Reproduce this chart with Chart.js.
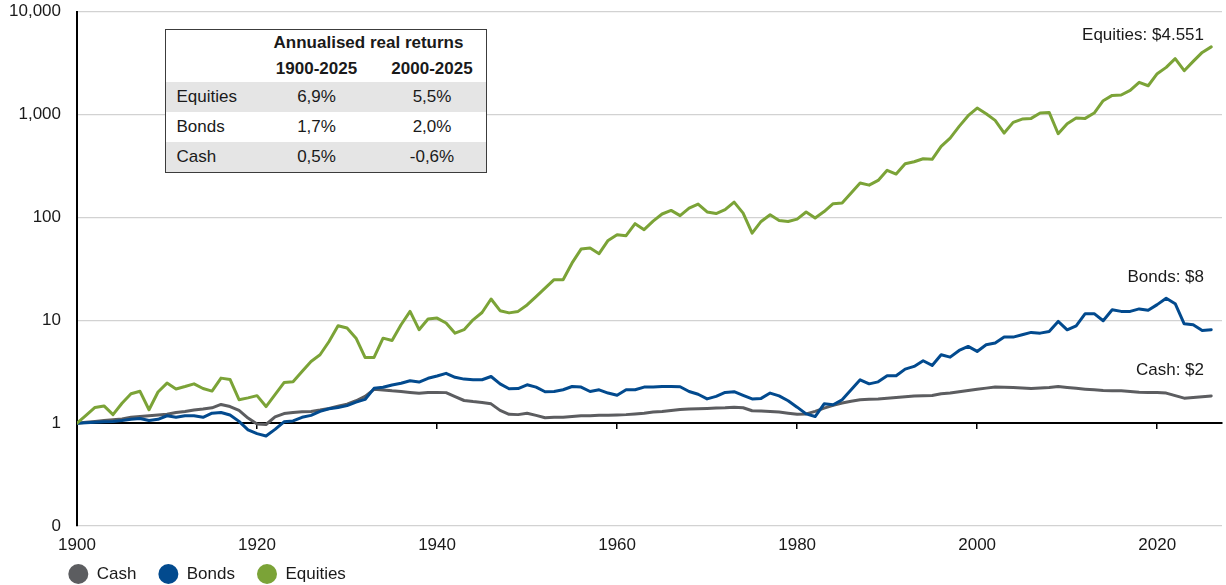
<!DOCTYPE html>
<html>
<head>
<meta charset="utf-8">
<script src="https://cdn.jsdelivr.net/npm/chart.js@4.4.1/dist/chart.umd.min.js"></script>
<style>
  html, body { margin: 0; padding: 0; background: #fff; }
  #wrap { position: relative; width: 1226px; height: 585px; font-family: "Liberation Sans", Arial, sans-serif; color: #1a1a1a; }
  canvas { display: block; }
  #returns { position: absolute; left: 165px; top: 29px; width: 322px; height: 144px; box-sizing: border-box;
             border: 1.5px solid #3c3c3c; background: #fff; font-size: 17px; overflow: hidden; }
  #returns .row { position: absolute; left: 0; right: 0; }
  #returns .cell { position: absolute; top: 0; height: 100%; display: flex; align-items: center; white-space: nowrap; }
  #returns .c { justify-content: center; }
  #returns .b { font-weight: bold; }
  #returns .shade { background: #e5e5e5; }
</style>
</head>
<body>
<div id="wrap">
  <canvas id="chart" width="1226" height="585"></canvas>
  <div id="returns"></div>
</div>
<script>
// Growth of $1 in real terms, year-end values, 1900-2026 (log scale)
const firstYear = 1900;

const cash = [
  1.00, 1.02, 1.04, 1.06, 1.08, 1.10, 1.14, 1.16, 1.18, 1.20,
  1.22, 1.27, 1.30, 1.34, 1.37, 1.41, 1.52, 1.45, 1.33, 1.12,
  0.98, 0.97, 1.15, 1.24, 1.27, 1.29, 1.30, 1.34, 1.39, 1.46,
  1.53, 1.65, 1.82, 2.13, 2.10, 2.06, 2.03, 1.99, 1.95, 1.99,
  1.99, 1.98, 1.81, 1.66, 1.62, 1.59, 1.54, 1.33, 1.22, 1.21,
  1.25, 1.19, 1.13, 1.14, 1.14, 1.16, 1.18, 1.18, 1.19, 1.19,
  1.20, 1.21, 1.23, 1.25, 1.28, 1.30, 1.33, 1.36, 1.37, 1.38,
  1.39, 1.40, 1.41, 1.43, 1.41, 1.32, 1.31, 1.30, 1.28, 1.25,
  1.22, 1.23, 1.30, 1.40, 1.49, 1.57, 1.63, 1.69, 1.71, 1.72,
  1.75, 1.78, 1.81, 1.84, 1.85, 1.86, 1.93, 1.96, 2.02, 2.08,
  2.14, 2.19, 2.24, 2.23, 2.22, 2.20, 2.17, 2.20, 2.22, 2.27,
  2.22, 2.18, 2.14, 2.11, 2.08, 2.07, 2.06, 2.03, 2.00, 1.99,
  1.99, 1.96, 1.85, 1.75, 1.78, 1.81, 1.84
];

const bonds = [
  1.00, 1.01, 1.02, 1.03, 1.04, 1.06, 1.09, 1.11, 1.06, 1.09,
  1.18, 1.14, 1.18, 1.18, 1.14, 1.25, 1.27, 1.20, 1.04, 0.86,
  0.79, 0.75, 0.87, 1.03, 1.05, 1.14, 1.19, 1.30, 1.38, 1.42,
  1.48, 1.60, 1.70, 2.18, 2.23, 2.35, 2.44, 2.58, 2.51, 2.73,
  2.87, 3.05, 2.79, 2.68, 2.64, 2.64, 2.84, 2.41, 2.16, 2.17,
  2.36, 2.24, 2.02, 2.03, 2.11, 2.27, 2.24, 2.03, 2.11, 1.96,
  1.87, 2.11, 2.11, 2.24, 2.24, 2.27, 2.27, 2.26, 2.03, 1.91,
  1.72, 1.82, 1.99, 2.02, 1.86, 1.72, 1.74, 1.96, 1.84, 1.65,
  1.43, 1.23, 1.16, 1.54, 1.51, 1.69, 2.11, 2.64, 2.41, 2.52,
  2.89, 2.89, 3.35, 3.56, 4.04, 3.64, 4.62, 4.38, 5.09, 5.57,
  4.98, 5.78, 6.00, 6.86, 6.86, 7.23, 7.62, 7.50, 7.79, 9.74,
  8.08, 8.84, 11.6, 11.6, 9.89, 12.65, 12.2, 12.2, 12.9, 12.5,
  14.2, 16.4, 14.5, 9.25, 9.04, 7.96, 8.1
];

const equities = [
  1.00, 1.19, 1.42, 1.47, 1.21, 1.56, 1.93, 2.04, 1.35, 2.01,
  2.45, 2.15, 2.27, 2.41, 2.17, 2.05, 2.74, 2.66, 1.69, 1.76,
  1.85, 1.45, 1.89, 2.48, 2.52, 3.18, 3.98, 4.62, 6.22, 8.85,
  8.40, 6.70, 4.35, 4.35, 6.70, 6.36, 9.05, 12.2, 8.10, 10.3,
  10.5, 9.40, 7.50, 8.10, 10.1, 11.9, 16.1, 12.4, 11.8, 12.2,
  14.1, 17.0, 20.5, 24.8, 24.8, 36.1, 49.2, 50.4, 44.4, 59.7,
  67.9, 66.4, 86.9, 76.0, 92.0, 108, 117, 104, 123, 135,
  113, 109, 119, 141, 110, 70.4, 91.4, 106, 93.5, 91.4,
  96.3, 113, 98.6, 114, 136, 138, 173, 216, 206, 229,
  287, 264, 333, 348, 372, 367, 490, 591, 767, 975,
  1157, 1019, 878, 661, 839, 904, 918, 1035, 1050, 651,
  815, 925, 918, 1035, 1363, 1536, 1548, 1718, 2055, 1906,
  2495, 2875, 3493, 2668, 3289, 4020, 4551
];

const years = equities.map((_, i) => firstYear + i);

const xTickYears = [1900, 1920, 1940, 1960, 1980, 2000, 2020];
const yTickValues = [0.1, 1, 10, 100, 1000, 10000];
const yTickLabels = ['0', '1', '10', '100', '1,000', '10,000'];

const seriesNames = ['Cash', 'Bonds', 'Equities'];
const seriesColors = ['#5c5d60', '#024a8e', '#7ba337'];

// Return table
const tableTitle = 'Annualised real returns';
const tablePeriods = ['1900-2025', '2000-2025'];
const tableAssets = ['Equities', 'Bonds', 'Cash'];
const returnsLong = ['6,9%', '1,7%', '0,5%'];
const returnsRecent = ['5,5%', '2,0%', '-0,6%'];

const FONT = '"Liberation Sans", Arial, sans-serif';
const TEXT = '#1a1a1a';
const X_MIN = 1900, X_MAX = 2027.2;

// ---- table ----
(function buildTable() {
  const box = document.getElementById('returns');
  const colCenters = [150.5, 266];
  const addRow = (top, height, shaded) => {
    const r = document.createElement('div');
    r.className = 'row' + (shaded ? ' shade' : '');
    r.style.top = top + 'px';
    r.style.height = height + 'px';
    box.appendChild(r);
    return r;
  };
  const addCell = (row, text, center, cls) => {
    const c = document.createElement('div');
    c.className = 'cell ' + (cls || '');
    c.textContent = text;
    if (center === null) { c.style.left = '10.5px'; }
    else { c.style.left = (center - 70) + 'px'; c.style.width = '140px'; }
    row.appendChild(c);
  };
  const h1 = addRow(0, 26, false);
  addCell(h1, tableTitle, 202.5, 'c b');
  const h2 = addRow(25.8, 26, false);
  tablePeriods.forEach((p, i) => addCell(h2, p, colCenters[i], 'c b'));
  tableAssets.forEach((name, i) => {
    const r = addRow(51.8 + 30 * i, 30, i % 2 === 0);
    addCell(r, name, null, '');
    addCell(r, returnsLong[i], colCenters[0], 'c');
    addCell(r, returnsRecent[i], colCenters[1], 'c');
  });
})();

// ---- chart ----
const seriesData = [cash, bonds, equities];
const datasets = seriesData.map((vals, k) => ({
  label: seriesNames[k],
  data: vals.map((v, i) => ({ x: years[i], y: v })),
  borderColor: seriesColors[k],
  backgroundColor: seriesColors[k],
  borderWidth: 3,
  pointRadius: 0,
  tension: 0,
  borderJoinStyle: 'round',
  borderCapStyle: 'round',
  order: 3 - k
}));

function fmtThousands(v) {
  return String(Math.round(v)).replace(/\B(?=(\d{3})+(?!\d))/g, '.');
}

// End-of-series value labels and the bottom legend
const overlay = {
  id: 'overlay',
  afterDraw(chart) {
    const { ctx, chartArea, scales } = chart;
    ctx.save();
    ctx.font = '17px ' + FONT;
    ctx.fillStyle = TEXT;
    ctx.textBaseline = 'middle';

    const endOffsets = [-26, -52, -12];
    ctx.textAlign = 'right';
    seriesData.forEach((vals, k) => {
      const last = vals[vals.length - 1];
      const txt = seriesNames[k] + ': $' + (last >= 1000 ? fmtThousands(last) : Math.round(last));
      const y = scales.y.getPixelForValue(last) + endOffsets[k];
      ctx.fillText(txt, chartArea.right - 18, y);
    });

    const ly = 574;
    let x = chartArea.left + 1.3;
    ctx.textAlign = 'left';
    seriesNames.forEach((name, k) => {
      ctx.fillStyle = seriesColors[k];
      ctx.beginPath();
      ctx.arc(x, ly, 10, 0, Math.PI * 2);
      ctx.fill();
      ctx.fillStyle = TEXT;
      ctx.fillText(name, x + 18.4, ly);
      x += 18.4 + ctx.measureText(name).width + 32;
    });
    ctx.restore();
  }
};

const setXTicks = s => { s.ticks = xTickYears.map(v => ({ value: v })); };

new Chart(document.getElementById('chart'), {
  type: 'line',
  data: { datasets },
  plugins: [overlay],
  options: {
    responsive: false,
    animation: false,
    devicePixelRatio: 1,
    layout: { padding: { left: 0, right: 4, top: 11.7, bottom: 0 } },
    plugins: { legend: { display: false }, tooltip: { enabled: false } },
    scales: {
      x: {
        type: 'linear',
        min: X_MIN, max: X_MAX,
        afterBuildTicks: setXTicks,
        afterFit: s => { s.height = 59; s.paddingLeft = 0; s.paddingRight = 0; },
        border: { display: false },
        grid: { display: false, drawTicks: false },
        ticks: {
          padding: 9, maxRotation: 0, autoSkip: false, color: TEXT,
          font: { size: 17, family: FONT },
          callback: v => String(v)
        }
      },
      xAxisLine: {
        type: 'linear',
        axis: 'x',
        position: { y: 1 },
        min: X_MIN, max: X_MAX,
        afterBuildTicks: setXTicks,
        border: { color: '#000', width: 2 },
        grid: { drawOnChartArea: false, drawTicks: true, tickLength: 5, color: '#000', lineWidth: 1.5 },
        ticks: { display: false }
      },
      y: {
        type: 'logarithmic',
        min: 0.1, max: 10000,
        afterBuildTicks: s => { s.ticks = yTickValues.map(v => ({ value: v })); },
        afterFit: s => { s.width = 77; s.paddingTop = 0; s.paddingBottom = 0; },
        border: { color: '#000', width: 2 },
        grid: {
          drawTicks: false,
          lineWidth: 1.2,
          color: c => (c.tick && c.tick.value === 1) ? 'rgba(0,0,0,0)' : '#d2d2d2'
        },
        ticks: {
          padding: 16, color: TEXT,
          font: { size: 17, family: FONT },
          callback: (v, i) => yTickLabels[i]
        }
      }
    }
  }
});
</script>
</body>
</html>
